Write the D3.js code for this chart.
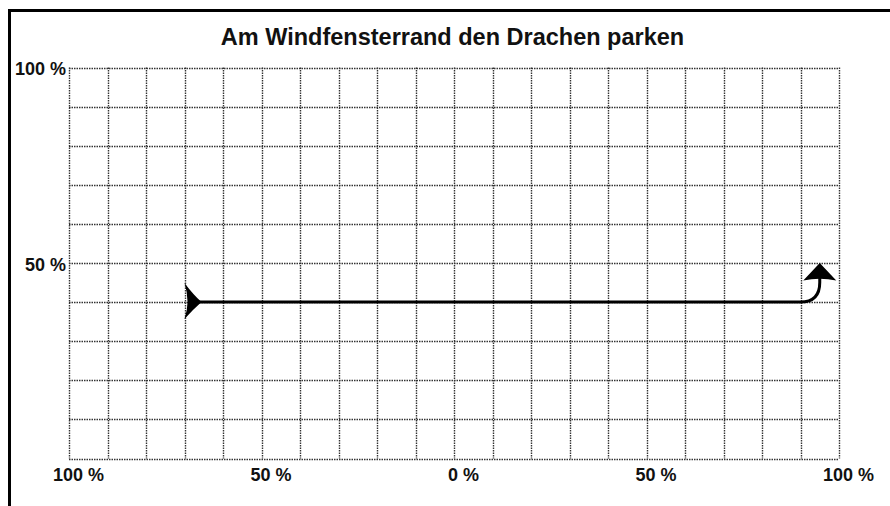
<!DOCTYPE html>
<html>
<head>
<meta charset="utf-8">
<script src="https://cdn.jsdelivr.net/npm/d3@7"></script>
<style>
  html, body { margin: 0; padding: 0; background: #fff; }
  svg { display: block; font-family: "Liberation Sans", Arial, Helvetica, sans-serif; }
</style>
</head>
<body>
<script>
// chart values
var title = 'Am Windfensterrand den Drachen parken'
var xTicks = [-100, -50, 0, 50, 100]        // left side 100 % .. right side 100 %
var yTicks = [50, 100]
var gridX = d3.range(-100, 101, 10)
var gridY = d3.range(0, 101, 10)
// kite route: start, end of straight part, end of the bend, arrow tip
var routeStart = [-70, 40]
var routeTurn = [90, 40]
var routeBend = [95, 45]
var routeTip = [95, 50]

var W = 890
  , H = 506
  , plotL = 69
  , plotR = 839
  , plotT = 67.5
  , plotB = 458.5

var svg = d3.select('body').append('svg')
  .attr('width', W)
  .attr('height', H)

var x = d3.scaleLinear().domain([-100, 100]).range([plotL, plotR])
  , y = d3.scaleLinear().domain([0, 100]).range([plotB, plotT])

// frame round the picture (open at right and bottom)
svg.append('path')
  .attr('d', 'M9.5,' + H + 'V10.5H' + W)
  .attr('fill', 'none')
  .attr('stroke', '#000')
  .attr('stroke-width', 3)

svg.append('text')
  .attr('x', 452.5)
  .attr('y', 45)
  .attr('text-anchor', 'middle')
  .attr('font-size', '23.5px')
  .attr('font-weight', 'bold')
  .attr('fill', '#111')
  .text(title)

// dotted grid
var grid = svg.append('g')
grid.selectAll('line.v').data(gridX).enter()
  .append('line')
  .attr('class', 'v')
  .attr('x1', function(d) { return Math.round(x(d)) + 0.5 })
  .attr('x2', function(d) { return Math.round(x(d)) + 0.5 })
  .attr('y1', plotT)
  .attr('y2', plotB)
grid.selectAll('line.h').data(gridY).enter()
  .append('line')
  .attr('class', 'h')
  .attr('y1', function(d) { return Math.round(y(d)) + 0.5 })
  .attr('y2', function(d) { return Math.round(y(d)) + 0.5 })
  .attr('x1', plotL)
  .attr('x2', plotR)
grid.selectAll('line')
  .attr('stroke', '#333')
  .attr('stroke-width', 1.4)
  .attr('stroke-dasharray', '1.5,1')

// axis labels
var xAxis = d3.axisBottom(x)
  .tickValues(xTicks)
  .tickSize(0)
  .tickFormat(function(d) { return Math.abs(d) + ' %' })
var gx = svg.append('g')
  .attr('transform', 'translate(9,' + plotB + ')')
  .call(xAxis)
gx.select('.domain').remove()
gx.selectAll('text')
  .attr('y', 22)
  .attr('dy', 0)

var yAxis = d3.axisLeft(y)
  .tickValues(yTicks)
  .tickSize(0)
  .tickFormat(function(d) { return d + ' %' })
var gy = svg.append('g')
  .attr('transform', 'translate(' + plotL + ',1.5)')
  .call(yAxis)
gy.select('.domain').remove()
gy.selectAll('text').attr('x', -3)

svg.selectAll('.tick text')
  .attr('font-family', '"Liberation Sans", Arial, sans-serif')
  .attr('font-size', '18px')
  .attr('font-weight', 'bold')
  .attr('fill', '#111')

// route line with bend
var sx = x(routeStart[0]), sy = y(routeStart[1])
  , tx = x(routeTurn[0]), ty = y(routeTurn[1])
  , bx = x(routeBend[0]), by = y(routeBend[1])
  , px = x(routeTip[0]), py = y(routeTip[1])

svg.append('path')
  .attr('d', 'M' + (sx + 8) + ',' + sy + 'L' + tx + ',' + ty +
             'Q' + bx + ',' + ty + ' ' + bx + ',' + by + 'L' + bx + ',' + (py + 14))
  .attr('fill', 'none')
  .attr('stroke', '#000')
  .attr('stroke-width', 3)

// arrow head at the end
svg.append('path')
  .attr('d', 'M' + px + ',' + py +
             'L' + (px + 16.5) + ',' + (py + 17.5) +
             'Q' + px + ',' + (py + 14) + ' ' + (px - 16.5) + ',' + (py + 17.5) + 'Z')
  .attr('fill', '#000')

// tail shape at the start
svg.append('path')
  .attr('d', 'M' + sx + ',' + (sy - 19) +
             'Q' + (sx + 9) + ',' + (sy - 7) + ' ' + (sx + 17) + ',' + sy +
             'Q' + (sx + 9) + ',' + (sy + 7) + ' ' + sx + ',' + (sy + 17) +
             'Q' + (sx + 6) + ',' + sy + ' ' + sx + ',' + (sy - 19) + 'Z')
  .attr('fill', '#000')
</script>
</body>
</html>
